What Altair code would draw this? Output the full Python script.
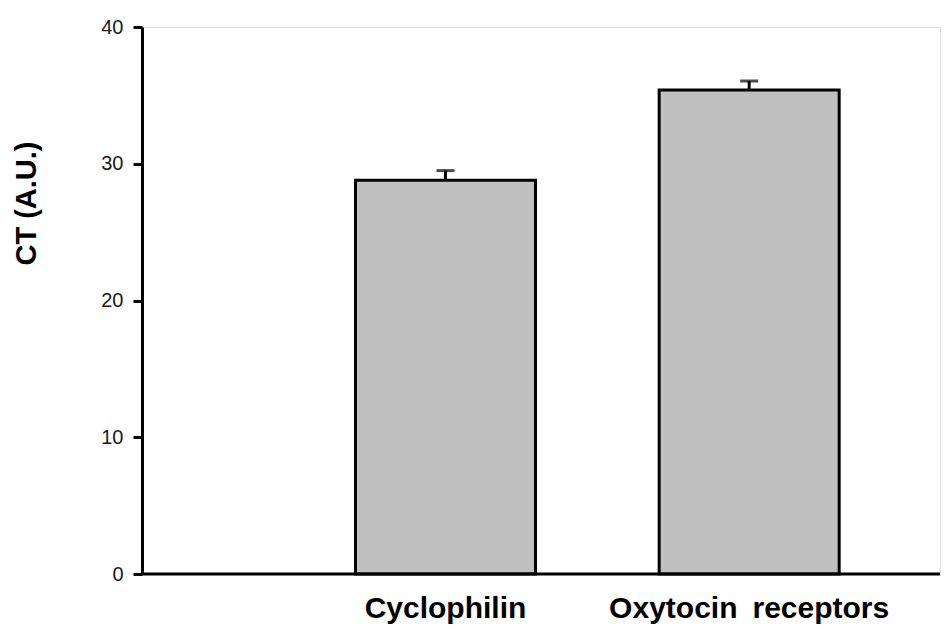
import altair as alt
import pandas as pd

# Data
slots = ["", "Cyclophilin", "Oxytocin\u2002receptors"]   # first slot is empty
categories = ["Cyclophilin", "Oxytocin\u2002receptors"]
ct_mean = [28.8, 35.4]
ct_sem = [0.7, 0.65]
y_ticks = [0, 10, 20, 30, 40]

df = pd.DataFrame({"cat": categories, "mean": ct_mean, "sem": ct_sem})
df["upper"] = df["mean"] + df["sem"]

FONT = "Liberation Sans"
W, H = 798, 547

x_scale = alt.Scale(domain=slots, range=[-152, 759], paddingInner=0, paddingOuter=0)
y_scale = alt.Scale(domain=[0, 40], nice=False)

x_enc = alt.X("cat:N", scale=x_scale, sort=slots,
              axis=alt.Axis(domain=False, ticks=False, title=None, labelAngle=0,
                            labelFont=FONT, labelFontSize=30, labelFontWeight="bold",
                            labelColor="#000000", labelPadding=19, labelLimit=500,
                            labelOverlap=False))

y_axis = alt.Axis(values=y_ticks, grid=False, domainColor="#000000", domainWidth=3,
                  tickColor="#000000", tickWidth=3, tickSize=9,
                  labelFont=FONT, labelFontSize=20, labelColor="#1a1a1a", labelPadding=10,
                  title="CT (A.U.)", titleFont=FONT, titleFontSize=29, titleFontWeight="bold",
                  titleColor="#000000", titleAngle=270, titleX=-116, titleY=176,
                  titleAlign="center", titleBaseline="middle")

base = alt.Chart(df)

bars = base.mark_bar(size=180, fill="#c0c0c0", stroke="#000000", strokeWidth=3).encode(
    x=x_enc,
    y=alt.Y("mean:Q", scale=y_scale, axis=y_axis),
)

err = base.mark_rule(color="#000000", strokeWidth=3).encode(
    x=alt.X("cat:N", scale=x_scale, sort=slots),
    y=alt.Y("mean:Q", scale=y_scale),
    y2="upper:Q",
)

caps = base.mark_tick(color="#000000", size=18, thickness=3, orient="horizontal").encode(
    x=alt.X("cat:N", scale=x_scale, sort=slots),
    y=alt.Y("upper:Q", scale=y_scale),
)

baseline = alt.Chart(pd.DataFrame({"v": [0]})).mark_rule(color="#000000", strokeWidth=3).encode(
    x=alt.value(0), x2=alt.value("width"),
    y=alt.Y("v:Q", scale=y_scale),
)

chart = alt.layer(bars, err, caps, baseline).properties(
    width=W, height=H,
    autosize=alt.AutoSizeParams(type="none"),
    padding={"left": 134, "top": 19, "right": 2, "bottom": 57},
).configure_view(stroke=None).configure(background="#ffffff")

chart.save("out.html", embed_options={"renderer": "svg", "actions": False})
